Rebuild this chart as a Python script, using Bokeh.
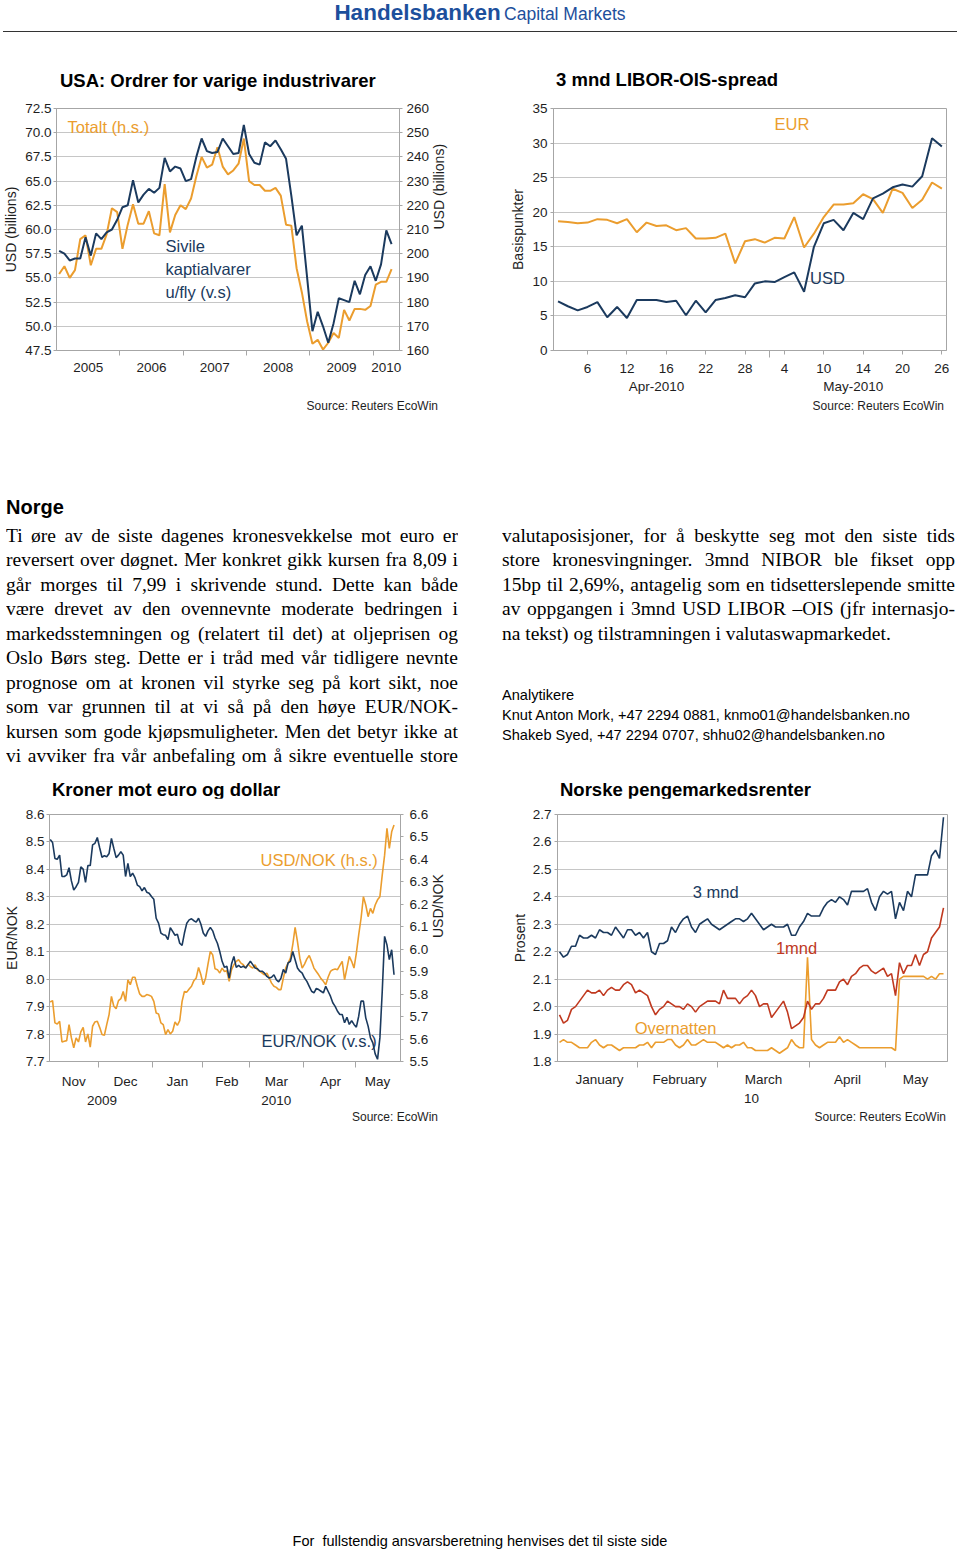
from bokeh.plotting import figure
from bokeh.models import (Range1d, LinearAxis, FixedTicker, Label, Div, Spacer,
                          NumeralTickFormatter)
from bokeh.layouts import column, row
from bokeh.embed import file_html
from bokeh.resources import INLINE
import math

# ---------------------------------------------------------------- data
# Chart 1: USA durable goods orders, monthly Jan 2005 - Apr 2010
c1_years = ["2005", "2006", "2007", "2008", "2009", "2010"]
c1_capital = [57.8, 57.5, 56.8, 57.0, 57.0, 59.2, 57.3, 59.6, 59.0, 59.7, 60.0, 61.0,
              62.3, 62.5, 65.1, 62.8, 63.6, 64.2, 63.8, 64.3, 67.4, 66.0, 66.5, 66.3,
              65.0, 65.2, 67.5, 69.4, 68.1, 67.9, 68.0, 69.4, 68.6, 67.8, 67.9, 70.8,
              67.8, 66.9, 66.7, 69.0, 68.6, 69.2, 68.3, 67.3, 63.5, 59.4, 60.4, 55.0,
              49.5, 51.5, 50.0, 48.3, 50.3, 52.9, 52.7, 52.5, 54.7, 53.3, 55.3, 56.2,
              54.7, 56.4, 59.9, 58.5]
c1_total = [191.6, 194.8, 190.0, 193.2, 206.0, 207.6, 195.2, 202.0, 202.0, 208.0, 218.8, 217.2,
            202.0, 212.0, 220.4, 212.4, 212.4, 217.6, 208.4, 207.6, 228.8, 208.8, 216.0, 220.0,
            218.4, 222.8, 232.0, 240.0, 235.6, 236.8, 244.0, 236.0, 232.8, 234.4, 237.2, 247.6,
            230.0, 228.4, 228.4, 226.0, 226.0, 227.2, 224.0, 212.0, 211.6, 194.0, 184.0, 172.0,
            162.8, 164.4, 160.4, 163.2, 167.2, 165.2, 176.8, 172.4, 177.2, 177.2, 176.8, 178.4,
            187.2, 188.4, 188.4, 193.6]

# Chart 2: 3m LIBOR-OIS spread, business days Apr 1 - May 26 2010
c2_apr_days = [1, 2, 5, 6, 7, 8, 9, 12, 13, 14, 15, 16, 19, 20, 21, 22, 23, 26, 27, 28, 29, 30]
c2_may_days = [3, 4, 5, 6, 7, 10, 11, 12, 13, 14, 17, 18, 19, 20, 21, 24, 25, 26]
c2_month_names = ["Apr-2010", "May-2010"]
c2_usd = [7.1, 6.4, 5.8, 6.3, 7.0, 4.8, 6.3, 4.7, 7.3, 7.3, 7.3, 7.0, 7.2, 5.1, 7.2, 5.5,
          7.3, 7.6, 8.0, 7.7, 9.7, 10.0, 9.9, 10.6, 11.3, 8.5, 15.0, 18.4, 18.9, 17.4,
          19.9, 19.0, 22.0, 22.7, 23.6, 24.0, 23.7, 25.2, 30.7, 29.5]
c2_eur = [18.7, 18.6, 18.4, 18.5, 19.0, 18.9, 18.4, 19.0, 17.1, 18.5, 18.0, 18.1, 17.4, 17.7,
          16.2, 16.2, 16.3, 16.9, 12.6, 15.8, 16.1, 15.6, 16.3, 16.2, 19.3, 14.9, 16.9, 19.3,
          21.1, 21.1, 21.3, 22.6, 21.9, 19.9, 23.4, 22.8, 20.6, 21.8, 24.3, 23.4]

# Chart 3: EUR/NOK and USD/NOK, weekdays Nov 2 2009 - May 26 2010
c3_months = ["Nov", "Dec", "Jan", "Feb", "Mar", "Apr", "May"]
c3_month_days = [21, 23, 21, 20, 23, 22, 18]
c3_years = ["2009", "2010"]
c3_year_months = [2, 5]
c3_eurnok = [8.509, 8.498, 8.440, 8.437, 8.452, 8.374, 8.374, 8.380, 8.406, 8.358,
             8.325, 8.337, 8.353, 8.409, 8.401, 8.353, 8.414, 8.414, 8.489, 8.495,
             8.516, 8.479, 8.444, 8.450, 8.446, 8.458, 8.513, 8.477, 8.443, 8.452,
             8.464, 8.452, 8.374, 8.422, 8.374, 8.386, 8.370, 8.343, 8.337, 8.322,
             8.334, 8.317, 8.313, 8.301, 8.291, 8.222, 8.204, 8.168, 8.162, 8.160,
             8.144, 8.188, 8.174, 8.160, 8.164, 8.131, 8.123, 8.168, 8.204, 8.216,
             8.220, 8.213, 8.208, 8.222, 8.200, 8.168, 8.156, 8.176, 8.188, 8.176,
             8.150, 8.131, 8.101,
             8.065, 8.043, 8.047, 8.004, 8.055, 8.083, 8.043, 8.050, 8.043, 8.047,
             8.041, 8.053, 8.065, 8.053, 8.041, 8.038, 8.029, 8.029, 8.022, 8.010,
             8.004, 8.007, 8.016, 7.998, 7.990, 8.004, 8.035, 8.022, 8.059, 8.065,
             8.101, 8.071, 8.041, 8.029, 8.022, 8.004, 7.992, 7.974, 7.956, 7.950,
             7.966, 7.962, 7.956, 7.950, 7.974, 7.956, 7.938, 7.914, 7.901, 7.883,
             7.871, 7.871, 7.841, 7.861, 7.835, 7.849, 7.835, 7.825, 7.865, 7.920,
             7.920, 7.859, 7.829, 7.786, 7.768, 7.728, 7.708, 7.786, 7.956, 8.156,
             8.125, 8.071, 8.107, 8.016]
c3_usdnok = [5.765, 5.771, 5.672, 5.667, 5.679, 5.587, 5.590, 5.593, 5.664, 5.605,
             5.561, 5.605, 5.587, 5.632, 5.652, 5.587, 5.623, 5.564, 5.657, 5.676,
             5.679, 5.652, 5.620, 5.617, 5.664, 5.709, 5.790, 5.746, 5.735, 5.771,
             5.780, 5.812, 5.768, 5.864, 5.842, 5.875, 5.875, 5.835, 5.801, 5.790,
             5.790, 5.798, 5.795, 5.790, 5.768, 5.716, 5.712, 5.672, 5.664, 5.620,
             5.642, 5.623, 5.635, 5.676, 5.661, 5.682, 5.768, 5.812, 5.809, 5.823,
             5.835, 5.860, 5.872, 5.919, 5.886, 5.842, 5.872, 5.934, 5.990, 5.975,
             5.913, 5.909, 5.894,
             5.916, 5.901, 5.904, 5.857, 5.909, 5.931, 5.946, 5.953, 5.938, 5.931,
             5.916, 5.934, 5.923, 5.916, 5.931, 5.909, 5.901, 5.894, 5.886, 5.894,
             5.872, 5.849, 5.835, 5.830, 5.820, 5.820, 5.872, 5.916, 5.938, 5.960,
             6.020, 6.097, 6.034, 5.960, 5.916, 5.934, 5.957, 5.972, 5.946, 5.916,
             5.901, 5.886, 5.869, 5.857, 5.842, 5.875, 5.901, 5.909, 5.912, 5.909,
             5.928, 5.946, 5.864, 5.916, 5.968, 5.946, 5.916, 5.983, 6.064, 6.138,
             6.234, 6.197, 6.145, 6.182, 6.160, 6.197, 6.220, 6.234, 6.331, 6.419,
             6.538, 6.449, 6.523, 6.553, 6.575]

# Chart 4: Norwegian money market rates, business days Jan 4 - May 26 2010
c4_months = ["January", "February", "March", "April", "May"]
c4_month_days = [20, 20, 23, 19, 15]
c4_year_label = "10"
c4_year_tick = 48
c4_3m = [2.20, 2.18, 2.19, 2.22, 2.22, 2.26, 2.25, 2.25, 2.26, 2.25,
         2.28, 2.27, 2.27, 2.26, 2.29, 2.27, 2.25, 2.28, 2.28, 2.26,
         2.27, 2.25, 2.27, 2.20, 2.19, 2.23, 2.23, 2.24, 2.29, 2.27,
         2.30, 2.32, 2.33, 2.29, 2.27, 2.30, 2.31, 2.32, 2.30, 2.29,
         2.28, 2.29, 2.30, 2.31, 2.32, 2.32, 2.31, 2.32, 2.34, 2.32,
         2.30, 2.28, 2.29, 2.30, 2.29, 2.29, 2.29, 2.30, 2.26, 2.26,
         2.29, 2.31, 2.34, 2.33, 2.33, 2.33, 2.36, 2.38, 2.39, 2.38,
         2.40, 2.39, 2.37, 2.42, 2.42, 2.42, 2.42, 2.43, 2.38, 2.35,
         2.40, 2.42, 2.41, 2.42, 2.32, 2.38, 2.35, 2.42, 2.40, 2.48,
         2.48, 2.48, 2.48, 2.55, 2.57, 2.54, 2.69]
c4_1m = [1.97, 1.94, 1.95, 1.99, 2.00, 2.02, 2.04, 2.06, 2.05, 2.05,
         2.06, 2.04, 2.06, 2.07, 2.06, 2.06, 2.08, 2.09, 2.08, 2.05,
         2.06, 2.05, 2.04, 2.00, 1.97, 1.99, 2.00, 2.02, 2.01, 2.00,
         2.00, 1.99, 2.01, 2.00, 1.98, 2.00, 2.01, 2.02, 2.02, 2.02,
         2.01, 2.06, 2.03, 2.03, 2.03, 2.01, 2.03, 2.04, 2.06, 2.04,
         2.00, 2.01, 2.01, 1.96, 1.98, 2.00, 2.02, 1.98, 1.92, 1.93,
         1.94, 1.96, 2.02, 1.99, 2.01, 2.01, 2.03, 2.06, 2.06, 2.06,
         2.09, 2.10, 2.08, 2.11, 2.12, 2.14, 2.15, 2.15, 2.13, 2.12,
         2.13, 2.14, 2.11, 2.12, 2.04, 2.16, 2.12, 2.15, 2.15, 2.19,
         2.15, 2.19, 2.20, 2.25, 2.27, 2.29, 2.36]
c4_on = [1.87, 1.88, 1.87, 1.87, 1.86, 1.85, 1.85, 1.85, 1.87, 1.88,
         1.86, 1.85, 1.86, 1.86, 1.85, 1.84, 1.85, 1.85, 1.85, 1.85,
         1.86, 1.86, 1.87, 1.85, 1.87, 1.87, 1.87, 1.88, 1.88, 1.86,
         1.85, 1.86, 1.88, 1.86, 1.86, 1.87, 1.88, 1.87, 1.87, 1.87,
         1.86, 1.85, 1.86, 1.85, 1.86, 1.86, 1.87, 1.85, 1.85, 1.84,
         1.84, 1.84, 1.84, 1.85, 1.84, 1.83, 1.84, 1.85, 1.88, 1.86,
         1.85, 1.85, 2.18, 1.88, 1.86, 1.85, 1.86, 1.87, 1.87, 1.87,
         1.89, 1.87, 1.88, 1.87, 1.86, 1.85, 1.85, 1.85, 1.85, 1.85,
         1.85, 1.85, 1.85, 1.85, 1.84, 2.10, 2.11, 2.11, 2.11, 2.11,
         2.11, 2.11, 2.10, 2.11, 2.10, 2.12, 2.12]

# Text content
header_bold = "Handelsbanken"
header_rest = "Capital Markets"
chart_titles = ["USA: Ordrer for varige industrivarer", "3 mnd LIBOR-OIS-spread",
                "Kroner mot euro og dollar", "Norske pengemarkedsrenter"]
chart_sources = ["Source: Reuters EcoWin", "Source: Reuters EcoWin",
                 "Source: EcoWin", "Source: Reuters EcoWin"]
section_title = "Norge"
left_lines = [
    "Ti øre av de siste dagenes kronesvekkelse mot euro er",
    "reversert over døgnet. Mer konkret gikk kursen fra 8,09 i",
    "går morges til 7,99 i skrivende stund. Dette kan både",
    "være drevet av den ovennevnte moderate bedringen i",
    "markedsstemningen og (relatert til det) at oljeprisen og",
    "Oslo Børs steg. Dette er i tråd med vår tidligere nevnte",
    "prognose om at kronen vil styrke seg på kort sikt, noe",
    "som var grunnen til at vi så på den høye EUR/NOK-",
    "kursen som gode kjøpsmuligheter. Men det betyr ikke at",
    "vi avviker fra vår anbefaling om å sikre eventuelle store",
]
right_lines = [
    "valutaposisjoner, for å beskytte seg mot den siste tids",
    "store kronesvingninger. 3mnd NIBOR ble fikset opp",
    "15bp til 2,69%, antagelig som en tidsetterslepende smitte",
    "av oppgangen i 3mnd USD LIBOR –OIS (jfr internasjo-",
    "na tekst) og tilstramningen i valutaswapmarkedet.",
]
analysts = ["Analytikere",
            "Knut Anton Mork, +47 2294 0881, knmo01@handelsbanken.no",
            "Shakeb Syed, +47 2294 0707, shhu02@handelsbanken.no"]
footer_text = "For&nbsp; fullstendig ansvarsberetning henvises det til siste side"

# ---------------------------------------------------------------- style
NAVY = "#1b3a5e"
ORANGE = "#eb9d2e"
RED = "#c0391f"
GRID = "#c6c6c6"
AXIS = "#a6a6a6"
TXT = "#1e1e1e"
SANS = "Liberation Sans"
TICK = "13.5px"


def make_fig(w, h, xr, yr, lb, rb, tb, bb):
    p = figure(width=w, height=h, x_range=xr, y_range=yr,
               output_backend="svg", toolbar_location=None,
               min_border_left=lb, min_border_right=rb,
               min_border_top=tb, min_border_bottom=bb)
    p.outline_line_color = AXIS
    p.xgrid.visible = False
    p.ygrid.grid_line_color = GRID
    p.border_fill_color = "white"
    return p


def style_axis(ax):
    ax.major_label_text_font = SANS
    ax.major_label_text_font_size = TICK
    ax.major_label_text_color = TXT
    ax.axis_line_color = AXIS
    ax.major_tick_line_color = AXIS
    ax.minor_tick_line_color = AXIS
    ax.axis_label_text_font = SANS
    ax.axis_label_text_font_size = "14px"
    ax.axis_label_text_font_style = "normal"
    ax.axis_label_text_color = TXT


def style_y(ax, ticks, fmt, tick_out, standoff, label, label_standoff, flip=False):
    style_axis(ax)
    ax.ticker = FixedTicker(ticks=ticks)
    ax.formatter = NumeralTickFormatter(format=fmt)
    ax.major_tick_out = tick_out
    ax.major_tick_in = 0
    ax.minor_tick_out = 0
    ax.minor_tick_in = 0
    ax.major_label_standoff = standoff
    ax.axis_label = label
    ax.axis_label_standoff = label_standoff
    if flip:
        try:
            ax.axis_label_orientation = math.pi / 2
        except Exception:
            pass


def style_x(ax, ticks, labels, minor, tick_out, minor_out, standoff, line=True):
    style_axis(ax)
    ax.ticker = FixedTicker(ticks=ticks, minor_ticks=minor)
    ax.major_label_overrides = {t: l for t, l in zip(ticks, labels)}
    ax.major_tick_out = tick_out
    ax.major_tick_in = 0
    ax.minor_tick_out = minor_out
    ax.minor_tick_in = 0
    ax.major_label_standoff = standoff
    if not line:
        ax.axis_line_color = None
        ax.major_tick_line_color = None
        ax.minor_tick_line_color = None


def add_label(p, x, y, text, color, size="16.5px"):
    p.add_layout(Label(x=x, y=y, text=text, text_color=color, text_font=SANS,
                       text_font_size=size, text_baseline="middle", text_align="left"))


def month_centers(days):
    out, start = [], 0
    for n in days:
        out.append(int((2 * start + n - 1) / 2 + 0.5))
        start += n
    return out


def month_bounds(days):
    out, start = [], 0
    for n in days[:-1]:
        start += n
        out.append(start - 0.5)
    return out


def div(html, w, h):
    return Div(text=html, width=w, height=h, margin=(0, 0, 0, 0))


def title_div(text, h, pad_top, pad_left):
    return div('<div style="padding-top:%.1fpx;padding-left:%dpx;font-family:\'Liberation Sans\',sans-serif;'
               'font-weight:bold;font-size:18.5px;line-height:22px;white-space:nowrap;color:#000;">%s</div>'
               % (pad_top, pad_left, text), 480, h)


def source_div(text, h, pad_right):
    return div('<div style="width:%dpx;text-align:right;font-family:\'Liberation Sans\',sans-serif;'
               'font-size:12px;line-height:14px;white-space:nowrap;color:%s;">%s</div>'
               % (480 - pad_right, TXT, text), 480, h)


# ---------------------------------------------------------------- chart 1
# x unit = half month, Jan 2005 starts at 0
c1_x = [2 * k + 1 for k in range(len(c1_capital))]
c1_year_ticks = [24 * k + 12 for k in range(5)] + [125]
c1_bounds = [24 * k for k in range(1, 6)]
p1 = make_fig(480, 306, Range1d(0, 130), Range1d(47.5, 72.5), 56, 81, 16, 48)
p1.extra_y_ranges = {"r": Range1d(160, 260)}
style_y(p1.yaxis[0], [47.5 + 2.5 * k for k in range(11)], "0.0", 3, 2, "USD (billions)", 3)
p1.ygrid[0].ticker = p1.yaxis[0].ticker
r1 = LinearAxis(y_range_name="r")
style_y(r1, [160 + 10 * k for k in range(11)], "0", 3, 4, "USD (billions)", 7, flip=True)
p1.add_layout(r1, "right")
style_x(p1.xaxis[0], c1_year_ticks, c1_years, c1_bounds, 0, 5, 7)
p1.line(c1_x, c1_total, y_range_name="r", color=ORANGE, line_width=2)
p1.line(c1_x, c1_capital, color=NAVY, line_width=2)
add_label(p1, 4.2, 70.6, "Totalt (h.s.)", ORANGE)
add_label(p1, 41.3, 58.25, "Sivile", NAVY)
add_label(p1, 41.3, 55.9, "kaptialvarer", NAVY)
add_label(p1, 41.3, 53.5, "u/fly  (v.s)", NAVY)

# ---------------------------------------------------------------- chart 2
c2_days = c2_apr_days + c2_may_days
c2_x = list(range(len(c2_days)))
c2_ticks = list(range(3, len(c2_days), 4))
c2_tick_labels = [str(c2_days[i]) for i in c2_ticks]
c2_split = len(c2_apr_days)
c2_month_ticks = [int((c2_split - 1) / 2), int((c2_split + len(c2_days) - 1) / 2)]
p2 = make_fig(480, 306, Range1d(-0.46, 39.47), Range1d(0, 35), 73, 14, 16, 48)
style_y(p2.yaxis[0], [5 * k for k in range(8)], "0", 3, 3, "Basispunkter", 3)
p2.ygrid[0].ticker = p2.yaxis[0].ticker
style_x(p2.xaxis[0], c2_ticks, c2_tick_labels, [c2_split - 0.5], 4, 7, 6)
ax2b = LinearAxis()
style_x(ax2b, c2_month_ticks, c2_month_names, [], 0, 0, 3, line=False)
p2.add_layout(ax2b, "below")
p2.line(c2_x, c2_eur, color=ORANGE, line_width=2)
p2.line(c2_x, c2_usd, color=NAVY, line_width=2)
add_label(p2, 22.0, 32.76, "EUR", ORANGE)
add_label(p2, 25.6, 10.46, "USD", NAVY)

# ---------------------------------------------------------------- chart 3
c3_x = list(range(len(c3_eurnok)))
c3_mt = month_centers(c3_month_days)
c3_mb = month_bounds(c3_month_days)
c3_year_days = [sum(c3_month_days[:c3_year_months[0]]), sum(c3_month_days[c3_year_months[0]:])]
c3_yt = month_centers(c3_year_days)
p3 = make_fig(480, 311, Range1d(-0.3, 148.75), Range1d(7.7, 8.6), 49, 80, 16, 48)
p3.extra_y_ranges = {"r": Range1d(5.5, 6.6)}
style_y(p3.yaxis[0], [7.7 + 0.1 * k for k in range(10)], "0.0", 3, 2, "EUR/NOK", 3)
p3.ygrid[0].ticker = p3.yaxis[0].ticker
r3 = LinearAxis(y_range_name="r")
style_y(r3, [5.5 + 0.1 * k for k in range(12)], "0.0", 3, 6, "USD/NOK", 7, flip=True)
p3.add_layout(r3, "right")
style_x(p3.xaxis[0], c3_mt, c3_months, c3_mb, 0, 6, 6)
ax3b = LinearAxis()
style_x(ax3b, c3_yt, c3_years, [], 0, 0, 4, line=False)
p3.add_layout(ax3b, "below")
p3.line(c3_x, c3_usdnok, y_range_name="r", color=ORANGE, line_width=1.6)
p3.line(c3_x, c3_eurnok, color=NAVY, line_width=1.6)
add_label(p3, 89.3, 8.434, "USD/NOK (h.s.)", ORANGE)
add_label(p3, 89.7, 7.773, "EUR/NOK (v.s.)", NAVY)

# ---------------------------------------------------------------- chart 4
c4_x = list(range(len(c4_3m)))
c4_mt = month_centers(c4_month_days)
c4_mb = month_bounds(c4_month_days)
p4 = make_fig(480, 311, Range1d(-0.5, 97), Range1d(1.8, 2.7), 77, 13, 16, 48)
style_y(p4.yaxis[0], [1.8 + 0.1 * k for k in range(10)], "0.0", 3, 3, "Prosent", 2)
p4.ygrid[0].ticker = p4.yaxis[0].ticker
style_x(p4.xaxis[0], c4_mt, c4_months, c4_mb, 0, 6, 4)
ax4b = LinearAxis()
style_x(ax4b, [c4_year_tick], [c4_year_label], [], 0, 0, 4, line=False)
p4.add_layout(ax4b, "below")
p4.line(c4_x, c4_on, color=ORANGE, line_width=1.6)
p4.line(c4_x, c4_1m, color=RED, line_width=1.6)
p4.line(c4_x, c4_3m, color=NAVY, line_width=1.6)
add_label(p4, 33.3, 2.418, "3 mnd", NAVY)
add_label(p4, 54.1, 2.2125, "1mnd", RED)
add_label(p4, 18.8, 1.922, "Overnatten", ORANGE)

# ---------------------------------------------------------------- text blocks
header_html = (
    '<div style="position:relative;width:960px;height:46px;">'
    '<div style="position:absolute;left:0;top:1.4px;width:960px;text-align:center;'
    'white-space:nowrap;color:#1d4f9c;line-height:23px;font-family:\'Liberation Sans\',sans-serif;">'
    '<span style="font-size:22.5px;font-weight:bold;">%s</span> '
    '<span style="font-size:17.5px;">%s</span></div>'
    '<div style="position:absolute;left:3px;top:31px;width:954px;height:0;'
    'border-top:1.6px solid #333;"></div></div>' % (header_bold, header_rest))


def just_line(t):
    words = "".join('<span>%s</span>' % w for w in t.split(" "))
    return ('<div style="display:flex;justify-content:space-between;height:24.5px;'
            'line-height:24.5px;white-space:nowrap;">%s</div>' % words)


def plain_line(t):
    return ('<div style="height:24.5px;line-height:24.5px;white-space:nowrap;">%s</div>' % t)


serif = "font-family:'Liberation Serif',serif;font-size:19.5px;color:#000;"
left_html = ('<div style="width:452px;height:337px;overflow:hidden;margin-left:6px;%s">' % serif +
             '<div style="height:65px"></div>'
             '<div style="height:24px;line-height:24px;font-family:\'Liberation Sans\',sans-serif;'
             'font-weight:bold;font-size:20px;">%s</div>' % section_title +
             '<div style="height:4.8px"></div>' +
             "".join(just_line(t) for t in left_lines) + '</div>')
right_html = ('<div style="width:453px;height:337px;overflow:hidden;margin-left:22px;%s">' % serif +
              '<div style="height:93.8px"></div>' +
              "".join(just_line(t) for t in right_lines[:-1]) + plain_line(right_lines[-1]) +
              '<div style="height:39.7px"></div>'
              '<div style="font-family:\'Liberation Sans\',sans-serif;font-size:14.6px;'
              'line-height:19.8px;white-space:nowrap;">' + "<br>".join(analysts) + '</div></div>')
footer_html = ('<div style="width:960px;height:18px;text-align:center;font-family:\'Liberation Sans\',sans-serif;'
               'font-size:14.5px;line-height:18px;color:#000;white-space:nowrap;">%s</div>' % footer_text)

header = div(header_html, 960, 46)
text_left = div(left_html, 480, 337)
text_right = div(right_html, 480, 337)
footer = div(footer_html, 960, 18)

col1 = column(title_div(chart_titles[0], 46, 23.6, 60), p1, source_div(chart_sources[0], 32, 42))
col2 = column(title_div(chart_titles[1], 46, 23.3, 76), p2, source_div(chart_sources[1], 32, 16))
col3 = column(title_div(chart_titles[2], 31, 11.6, 52), p3, source_div(chart_sources[2], 21, 42))
col4 = column(title_div(chart_titles[3], 31, 12.3, 80), p4, source_div(chart_sources[3], 21, 14))

layout = column(header,
                row(col1, col2),
                row(text_left, text_right),
                row(col3, col4),
                Spacer(width=960, height=402, margin=(0, 0, 0, 0)),
                footer)

open("out.html", "w", encoding="utf-8").write(file_html(layout, INLINE))
